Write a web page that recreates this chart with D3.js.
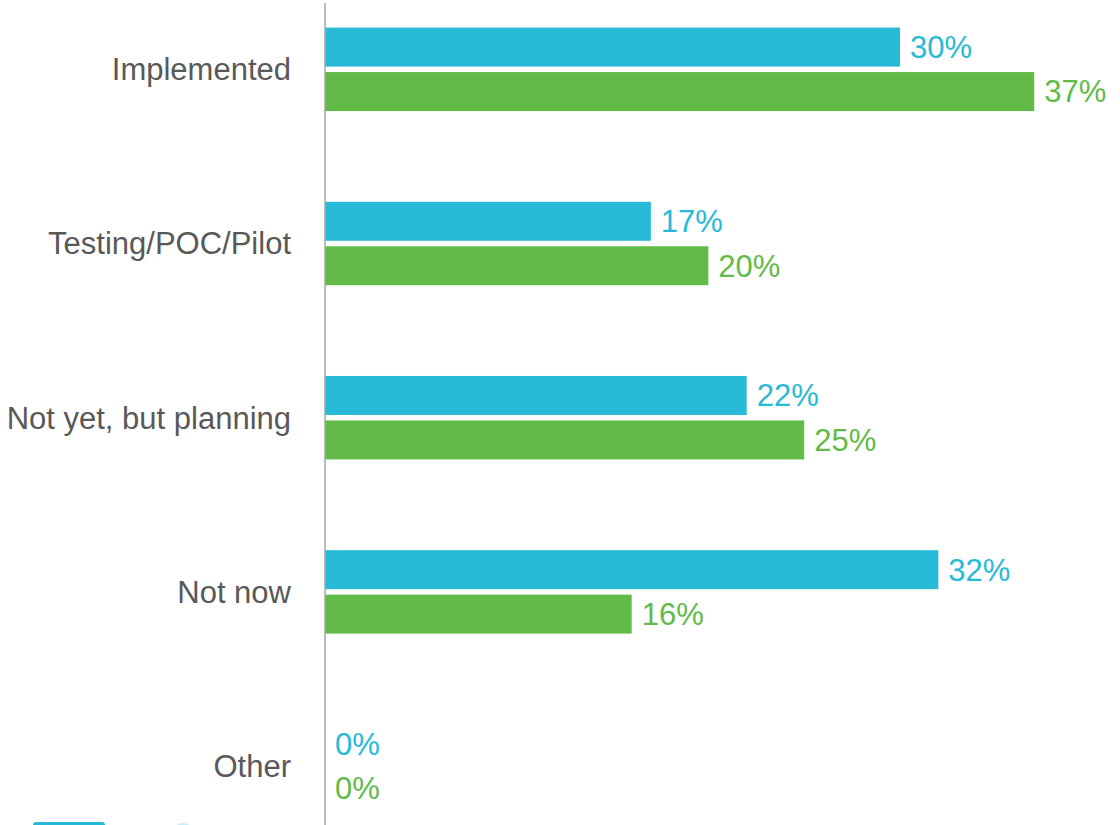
<!DOCTYPE html>
<html>
<head>
<meta charset="utf-8">
<script src="https://cdn.jsdelivr.net/npm/d3@7"></script>
<style>
  html, body { margin: 0; padding: 0; background: #ffffff; }
  svg { display: block; }
  text { font-family: "Liberation Sans", Arial, sans-serif; }
</style>
</head>
<body>
<svg id="chart" width="1120" height="825"></svg>
<script>
// Adoption stage categories (top to bottom)
const categories = ["Implemented", "Testing/POC/Pilot", "Not yet, but planning", "Not now", "Other"];
// Two survey series, percent of respondents
const seriesNames = ["Series 1", "Series 2"];
const series1 = [30, 17, 22, 32, 0];
const series2 = [37, 20, 25, 16, 0];
const valueSuffix = "%";

const colors = { "Series 1": "#27BAD7", "Series 2": "#62BB46" };

const W = 1120, H = 825;
const svg = d3.select("#chart");

const rows = categories.map((c, i) => ({
  category: c,
  values: [
    { key: seriesNames[0], value: series1[i] },
    { key: seriesNames[1], value: series2[i] }
  ]
}));

// Horizontal value scale; zero sits on the vertical axis line
const x = d3.scaleLinear().domain([0, 40]).range([325, 1091.7]);

// One band per category, split into one sub-band per series
const y = d3.scaleBand()
  .domain(categories)
  .range([27.6, 807.8])
  .paddingInner(0.521)
  .paddingOuter(0);

const ySub = d3.scaleBand()
  .domain(seriesNames)
  .range([0, y.bandwidth()])
  .paddingInner(0.1236)
  .paddingOuter(0);

const groups = svg.append("g").attr("class", "groups")
  .selectAll("g")
  .data(rows)
  .join("g")
  .attr("transform", d => `translate(0,${y(d.category)})`);

// Bars
groups.selectAll("rect")
  .data(d => d.values)
  .join("rect")
  .attr("x", x(0))
  .attr("y", d => ySub(d.key))
  .attr("width", d => x(d.value) - x(0))
  .attr("height", ySub.bandwidth())
  .attr("fill", d => colors[d.key]);

// Value labels at the end of each bar
groups.selectAll("text.value")
  .data(d => d.values)
  .join("text")
  .attr("class", "value")
  .attr("x", d => x(d.value) + 10)
  .attr("y", d => ySub(d.key) + ySub.bandwidth() / 2)
  .attr("dy", "0.35em")
  .attr("font-size", 31)
  .attr("fill", d => colors[d.key])
  .text(d => d.value + valueSuffix);

// Category axis on the left, no ticks, just the line and labels
const yAxis = d3.axisLeft(y).tickSize(0).tickPadding(34);
const axisG = svg.append("g")
  .attr("transform", `translate(${x(0)},0)`)
  .call(yAxis);
axisG.select(".domain").remove();
axisG.selectAll("text")
  .attr("font-size", 31)
  .attr("fill", "#595959")
  .attr("font-family", "'Liberation Sans', Arial, sans-serif")
  .attr("dy", "0.35em");

svg.append("line")
  .attr("x1", x(0)).attr("x2", x(0))
  .attr("y1", 3).attr("y2", H)
  .attr("stroke", "#A6A6A6")
  .attr("stroke-width", 1.5);

// Legend row, sitting at the bottom edge
const legend = svg.append("g").attr("class", "legend");
legend.append("rect")
  .attr("x", 33).attr("y", 822)
  .attr("width", 72).attr("height", 12)
  .attr("rx", 3)
  .attr("fill", colors[seriesNames[0]]);
legend.append("circle")
  .attr("cx", 183).attr("cy", 835)
  .attr("r", 12)
  .attr("fill", "#C9EDF6");
</script>
</body>
</html>
